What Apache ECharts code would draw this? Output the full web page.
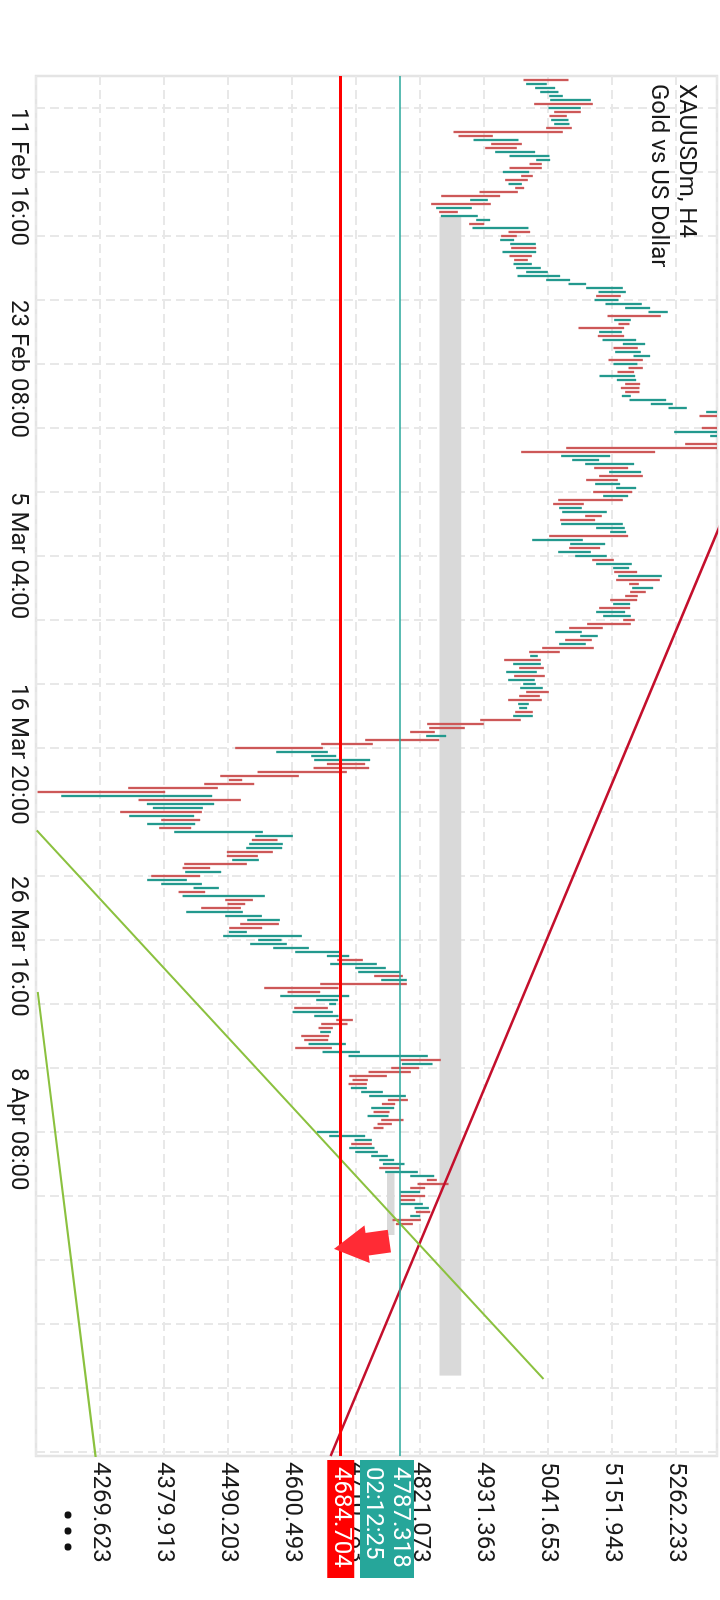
<!DOCTYPE html>
<html><head><meta charset="utf-8">
<script src="https://cdn.jsdelivr.net/npm/echarts@6/dist/echarts.min.js"></script>
<style>
html,body{margin:0;padding:0;width:720px;height:1600px;overflow:hidden;background:#fff;}
#chart{position:absolute;left:0;top:0;width:1600px;height:720px;transform-origin:0 0;transform:translate(720px,0) rotate(90deg);background:#fff;}
</style></head><body><div id="chart"></div>
<script>
// ---- time axis ----
const timeLabels = ['11 Feb 16:00','23 Feb 08:00','5 Mar 04:00','16 Mar 20:00','26 Mar 16:00','8 Apr 08:00'];
const timeLabelSlots = [8, 56, 104, 152, 200, 248];
const slotCount = 346;
const firstBarSlot = 1;
// ---- price axis ----
const priceMin = 4159.333, priceStep = 110.29, priceMax = 5332.9;
// ---- bars (H4), bar k sits at slot firstBarSlot + k ----
const lows = [
4999.4,5004.0,5019.5,5028.2,5043.7,5045.4,5017.8,5042.5,5052.3,5044.2,
5047.1,5052.3,5038.5,4878.8,4887.4,4913.3,4943.7,4933.4,4950.6,4975.3,
5021.3,5009.8,4975.3,4963.8,4995.4,4967.8,4973.6,4985.1,4923.6,4857.6,
4907.5,4840.3,4848.9,4854.1,4857.0,4917.9,4905.8,4911.5,4973.6,4960.9,
4959.2,4976.5,4978.2,4963.2,4975.3,4983.3,4982.2,4986.8,5004.0,4989.1,
5038.5,5077.0,5107.4,5128.7,5124.6,5121.8,5140.7,5174.6,5214.8,5144.2,
5155.7,5163.1,5094.2,5129.8,5127.5,5135.6,5170.6,5154.5,5157.4,5189.0,
5145.9,5154.5,5180.4,5161.4,5130.4,5160.3,5174.6,5167.2,5174.6,5168.9,
5182.1,5218.8,5249.3,5314.2,5302.7,5338.0,5341.0,5306.7,5259.1,5321.1,
5336.0,5278.0,5073.0,4995.4,5064.3,5083.3,5105.7,5121.2,5147.0,5129.8,
5107.4,5122.9,5159.1,5119.5,5136.7,5059.2,5050.5,5060.9,5066.1,5105.7,
5062.6,5064.3,5124.6,5148.8,5043.7,5014.4,5079.8,5078.1,5059.2,5088.5,
5117.8,5124.6,5153.9,5155.7,5162.6,5159.1,5181.5,5186.7,5183.2,5174.6,
5148.8,5153.9,5129.8,5124.6,5136.7,5171.2,5109.1,5078.1,5054.0,5097.1,
5071.2,5060.9,5031.6,5009.2,5010.9,4966.1,4981.6,4992.0,4969.6,4983.3,
4973.0,4998.9,4993.7,5004.0,4992.0,4973.0,4990.2,4992.0,4985.1,4981.6,
4924.8,4833.4,4836.9,4804.1,4831.7,4726.6,4650.8,4502.6,4573.3,4633.6,
4638.7,4660.6,4637.6,4541.1,4476.8,4491.7,4449.2,4318.2,4162.0,4202.8,
4336.0,4350.4,4360.7,4304.4,4319.9,4375.1,4350.9,4371.6,4397.5,4537.1,
4531.3,4526.7,4521.6,4488.2,4488.2,4497.4,4414.7,4411.9,4416.4,4357.9,
4350.9,4375.1,4430.8,4405.0,4411.9,4485.4,4489.4,4444.0,4418.2,4485.4,
4523.3,4511.2,4492.3,4491.7,4481.9,4542.2,4528.4,4568.1,4606.0,4660.6,
4678.4,4666.3,4709.4,4714.6,4742.1,4754.2,4649.1,4552.6,4592.8,4580.2,
4642.2,4664.6,4604.3,4601.4,4638.8,4676.7,4650.8,4646.2,4649.1,4616.4,
4621.5,4629.0,4606.0,4653.1,4697.9,4787.0,4789.8,4771.5,4732.4,4699.1,
4704.8,4697.9,4701.9,4719.7,4733.5,4765.7,4755.4,4737.0,4741.0,4730.7,
4754.2,4747.9,4741.0,4643.4,4664.6,4708.3,4702.5,4699.1,4709.4,4737.0,
4750.8,4757.1,4750.8,4761.1,4804.2,4832.9,4816.8,4804.2,4787.0,4787.0,
4787.0,4787.0,4811.7,4814.0,4804.2,4773.7,4779.5];
const highs = [
5077.0,5039.6,5054.0,5059.7,5067.2,5115.5,5118.9,5098.2,5098.2,5074.1,
5077.0,5078.7,5082.7,5067.2,4946.6,4990.8,4996.6,4987.9,5019.5,5044.2,
5045.4,5031.0,5031.0,5009.2,5015.5,5006.9,4996.6,5000.6,4989.7,4959.2,
4938.0,4943.1,4910.4,4886.3,4920.7,4942.0,4931.7,5008.0,5010.9,4987.9,
4983.3,5020.7,5021.3,5021.3,5013.8,5006.9,5013.8,5029.3,5041.4,5062.6,
5079.8,5107.4,5170.6,5175.8,5167.1,5163.1,5203.3,5217.7,5248.1,5236.1,
5184.4,5182.1,5172.9,5168.9,5172.9,5193.6,5209.1,5196.4,5201.6,5217.7,
5205.1,5195.9,5205.1,5190.1,5191.9,5193.6,5200.5,5199.3,5199.3,5184.4,
5245.3,5256.7,5280.9,5348.0,5356.0,5372.0,5386.0,5362.0,5352.0,5358.0,
5368.0,5364.0,5350.0,5226.3,5148.8,5129.8,5190.1,5179.8,5202.2,5205.1,
5162.0,5166.0,5193.6,5186.7,5179.8,5170.6,5103.4,5099.9,5143.0,5134.4,
5122.9,5170.6,5174.0,5176.3,5179.8,5101.7,5140.2,5131.5,5115.5,5143.0,
5155.1,5186.1,5181.5,5195.3,5237.8,5234.4,5198.2,5222.9,5210.2,5196.4,
5195.3,5183.2,5183.2,5174.6,5184.4,5191.3,5184.4,5136.1,5099.9,5127.5,
5117.2,5106.8,5120.6,5062.0,5024.1,5029.3,5029.3,5034.5,5022.4,5036.2,
5018.9,5020.7,5032.7,5043.1,5027.6,5031.0,5008.6,5005.7,5015.5,5015.5,
4994.8,4931.1,4898.3,4846.6,4866.2,4854.2,4739.8,4653.7,4662.3,4676.7,
4735.2,4726.6,4733.5,4695.0,4612.3,4514.7,4535.4,4472.7,4382.0,4463.0,
4512.4,4466.4,4446.9,4445.2,4431.9,4442.3,4433.7,4426.8,4550.3,4602.0,
4575.6,4584.7,4583.6,4567.5,4541.7,4543.4,4522.7,4459.5,4478.5,4442.3,
4419.3,4445.2,4474.5,4450.9,4553.7,4533.1,4519.9,4512.4,4515.8,4548.6,
4579.6,4577.9,4549.1,4522.7,4617.5,4582.5,4591.6,4629.6,4681.8,4699.1,
4722.6,4746.7,4762.2,4787.0,4791.5,4798.4,4798.4,4680.7,4649.1,4699.1,
4680.0,4676.4,4662.3,4670.9,4680.7,4705.4,4696.2,4670.9,4667.5,4664.6,
4662.9,4693.3,4669.2,4717.5,4834.6,4857.0,4842.7,4819.7,4805.3,4764.0,
4731.2,4729.5,4729.5,4757.1,4796.7,4800.2,4778.3,4776.6,4768.6,4766.9,
4792.7,4772.6,4758.2,4680.7,4726.6,4738.1,4738.1,4742.7,4748.5,4765.7,
4776.6,4794.4,4787.0,4817.4,4845.6,4850.1,4870.3,4830.0,4821.4,4830.0,
4812.8,4826.0,4836.4,4838.7,4821.4,4822.6,4808.8];
// 1 = bullish (teal), 0 = bearish (red)
const dirs = [
0,1,1,1,1,1,0,1,0,0, 1,1,0,0,0,1,0,0,1,1, 1,0,0,1,0,0,1,0,0,0,
1,0,1,0,1,1,0,1,0,0, 1,1,0,1,0,0,1,1,1,1, 1,1,1,1,0,1,1,1,1,0,
1,0,0,1,0,1,1,0,1,1, 0,1,0,0,1,1,0,0,0,1, 1,1,1,1,0,1,0,0,1,1,
0,0,0,0,1,1,1,0,1,0, 0,1,1,0,1,0,0,1,1,0, 0,1,1,1,0,1,1,0,1,1,
0,1,1,0,1,0,0,1,0,0, 0,1,0,1,1,0,0,0,1,1, 0,1,0,0,1,0,1,0,1,0,
1,1,1,0,0,0,1,1,0,1, 0,0,0,0,1,0,0,0,1,1, 1,0,0,0,0,0,0,0,0,1,
0,1,1,0,1,0,1,0,1,1, 0,1,1,0,0,1,0,0,1,0, 1,1,1,0,1,0,0,0,1,1,
1,0,0,1,1,1,1,1,1,1, 0,1,1,1,0,1,0,0,0,1, 1,1,0,1,1,0,0,0,1,0,
0,1,0,1,1,0,1,0,0,0, 0,0,1,1,1,0,0,1,0,1, 0,0,0,1,1,1,0,1,1,1,
1,1,0,1,1,0,0,0,1,0, 0,1,1,0,1,0,0];
// ---- levels & objects (slot, price) ----
const levelRed = 4684.704;
const levelBid = 4787.318;
const bidTimer = '02:12:25';
const trendRed = [[100, 5373.7], [345, 4667.1]];
const trendGreen1 = [[188.6, 4160.5], [325.75, 5034.0]];
const trendGreen2 = [[229, 4162.5], [345.5, 4262.3]];
const zones = [[35.2, 4854.7, 324.9, 4892.0], [274.3, 4764.0, 289.75, 4777.2]];
const sellArrow = [[292.25, 4720.5]];

const colUp = '#23998e', colDown = '#cd5858';
const font = 'Roboto';
const categories = Array.from({length: slotCount}, (_, i) => {
  const k = timeLabelSlots.indexOf(i);
  return k >= 0 ? timeLabels[k] : '';
});
const gridLine = {color: '#e8e8e8', width: 2, type: [9, 5]};

const chart = echarts.init(document.getElementById('chart'), null, {renderer: 'canvas'});
chart.setOption({
  animation: false,
  backgroundColor: '#fff',
  title: {
    text: 'XAUUSDm, H4', subtext: 'Gold vs US Dollar',
    left: 84, top: 20, padding: 0, itemGap: 0,
    textStyle: {fontSize: 24, fontWeight: 'normal', color: '#1a1a1a', fontFamily: font, lineHeight: 28},
    subtextStyle: {fontSize: 24, color: '#1a1a1a', fontFamily: font, lineHeight: 28}
  },
  grid: {left: 76, right: 144, top: 3, bottom: 36, show: true, borderColor: '#e4e4e4', borderWidth: 2.5, backgroundColor: 'transparent'},
  xAxis: [{
    type: 'category', data: categories, boundaryGap: false, position: 'bottom',
    axisLine: {show: false}, axisTick: {show: false},
    axisLabel: {interval: (i, v) => v !== '', align: 'left', margin: 6, fontSize: 24, lineHeight: 24, fontFamily: font, color: '#1a1a1a'},
    splitLine: {show: true, interval: (i) => i >= 8 && (i - 8) % 16 === 0, lineStyle: gridLine}
  }, {
    type: 'value', min: 0, max: slotCount - 1, show: false
  }],
  yAxis: {
    type: 'value', position: 'right', min: priceMin, max: priceMax, interval: priceStep,
    axisLine: {show: false}, axisTick: {show: false},
    axisLabel: {showMinLabel: false, showMaxLabel: false, margin: 6, fontSize: 24, fontFamily: font, color: '#1a1a1a',
      formatter: v => v.toFixed(3)},
    splitLine: {show: true, lineStyle: gridLine}
  },
  series: [
    {
      type: 'custom', name: 'zones', xAxisIndex: 1, clip: true, z: 1,
      data: zones,
      renderItem: (params, api) => {
        const a = api.coord([api.value(0), api.value(1)]);
        const b = api.coord([api.value(2), api.value(3)]);
        return {type: 'rect', shape: {x: a[0], y: b[1], width: b[0] - a[0], height: a[1] - b[1]}, style: {fill: '#d9d9d9'}};
      }
    },
    {
      type: 'custom', name: 'bars', xAxisIndex: 1, clip: true, z: 3,
      data: lows.map((l, i) => [firstBarSlot + i, l, highs[i], dirs[i]]),
      renderItem: (params, api) => {
        const lo = api.coord([api.value(0), api.value(1)]);
        const hi = api.coord([api.value(0), api.value(2)]);
        return {type: 'rect', shape: {x: lo[0] - 1.15, y: hi[1], width: 2.3, height: lo[1] - hi[1]},
          style: {fill: api.value(3) ? colUp : colDown}};
      }
    },
    {type: 'line', name: 'trend', xAxisIndex: 1, data: trendRed, symbol: 'none', z: 4, clip: true,
      lineStyle: {color: '#c40f2c', width: 2.6}},
    {type: 'line', name: 'green1', xAxisIndex: 1, data: trendGreen1, symbol: 'none', z: 4, clip: true,
      lineStyle: {color: '#8bc13f', width: 2}},
    {type: 'line', name: 'green2', xAxisIndex: 1, data: trendGreen2, symbol: 'none', z: 4, clip: true,
      lineStyle: {color: '#8bc13f', width: 2}},
    {type: 'line', name: 'levels', xAxisIndex: 1, data: [], z: 5, clip: false,
      markLine: {
        silent: true, symbol: ['none', 'none'], animation: false,
        data: [
          {yAxis: levelBid, lineStyle: {color: '#26a69a', width: 1.6, type: 'solid'},
            label: {show: true, position: 'end', distance: 4,
              formatter: '{e| }\n{a|' + levelBid.toFixed(3) + '}\n{a|' + bidTimer + '}',
              rich: {
                e: {height: 27, lineHeight: 27, fontSize: 24},
                a: {color: '#ffffff', backgroundColor: '#26a69a', width: 103, height: 27, lineHeight: 27,
                    padding: [0, 8, 0, 7], fontSize: 24, fontFamily: font}
              }}},
          {yAxis: levelRed, lineStyle: {color: '#ff0000', width: 3, type: 'solid'},
            label: {show: true, position: 'end', distance: 4,
              formatter: '{a|' + levelRed.toFixed(3) + '}',
              rich: {
                a: {color: '#ffffff', backgroundColor: '#ff0000', width: 103, height: 27, lineHeight: 27,
                    padding: [0, 8, 0, 7], fontSize: 24, fontFamily: font}
              }}}
        ]
      }},
    {type: 'scatter', name: 'sell', xAxisIndex: 1, data: sellArrow, z: 6,
      symbol: 'path://M20,0 L80,0 L80,40 L100,40 L50,100 L0,40 L20,40 Z',
      symbolSize: [38, 56], symbolRotate: 8,
      itemStyle: {color: '#ff2b35', opacity: 1}}
  ],
  graphic: [
    {type: 'circle', shape: {cx: 1515, cy: 652, r: 3.6}, style: {fill: '#111'}},
    {type: 'circle', shape: {cx: 1531, cy: 652, r: 3.6}, style: {fill: '#111'}},
    {type: 'circle', shape: {cx: 1547, cy: 652, r: 3.6}, style: {fill: '#111'}}
  ]
});
</script></body></html>
